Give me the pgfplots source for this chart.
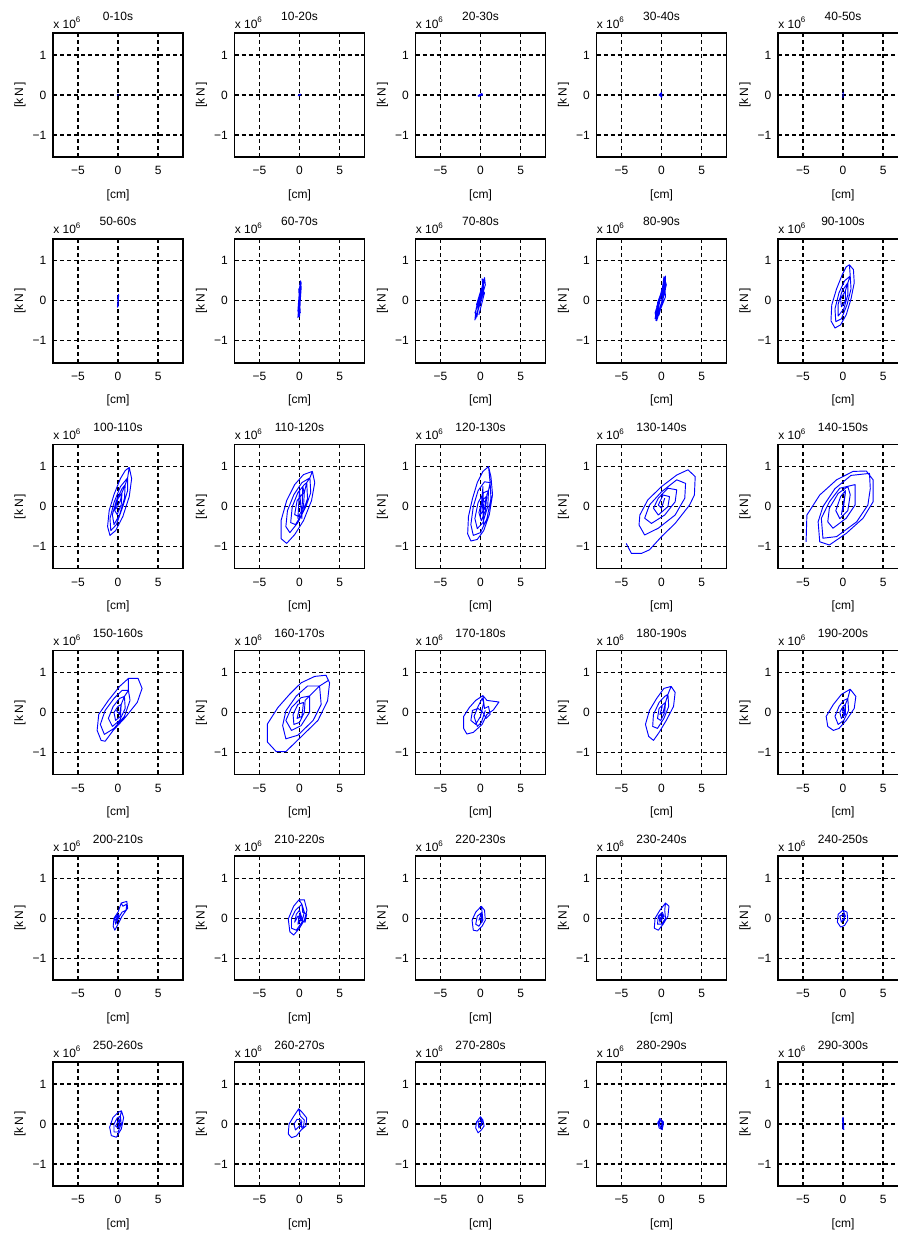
\documentclass[border=0pt]{standalone}
\usepackage{fontspec}
\setmainfont{Liberation Sans}
\usepackage{pgfplots}
\pgfplotsset{compat=1.18}
\definecolor{mblue}{RGB}{0,0,255}
\newcommand{\lf}{\fontsize{9}{10}\selectfont}
\pgfplotsset{panel/.style={
 width=97.5pt, height=93pt, scale only axis, anchor=north west,
 xmin=-8.1, xmax=8.1, ymin=-1.55, ymax=1.55,
 xtick={-5,0,5}, xticklabels={−5,0,5}, ytick={-1,0,1}, yticklabels={−1,0,1},
 grid=major, major grid style={black, line width=1pt, dash pattern=on 3pt off 2.3pt},
 axis line style={black, line width=1.3pt},
 tick align=inside, major tick length=2.5pt, tick style={black, line width=0.8pt},
 every tick label/.append style={font=\lf},
 xticklabel style={yshift=-3.5pt},
 yticklabel style={xshift=-1.5pt},
 xlabel={[cm]}, ylabel={[k\,N\,]},
 label style={font=\lf},
 xlabel style={at={(axis description cs:0.5,-0.306)}, anchor=center},
 ylabel style={at={(axis description cs:-0.254,0.5)}, anchor=center},
 title style={at={(axis description cs:0.5,1)}, anchor=base, yshift=3.75pt, inner sep=0pt, font=\lf},
 extra description/.code={\node[anchor=base west, inner sep=0pt, font=\lf] at (axis description cs:0,1) [yshift=3.75pt] {x 10\textsuperscript{6}};},
}}
\newcommand{\panel}[4]{%
\begin{axis}[panel, at={({#1*0.75pt},{-#2*0.75pt})}, title={#3}]
\addplot[mblue, line width=0.7pt, line join=round, mark=none] coordinates {#4};
\end{axis}}
\begin{document}
\begin{tikzpicture}
\useasboundingbox (0,0) rectangle ({898*0.75pt},{-1235*0.75pt});
\clip (0,0) rectangle ({898*0.75pt},{-1235*0.75pt});
% Row 1
\panel{53}{33}{0-10s}{(0,0)(0.06,0.005)(-0.06,-0.005)(0,0)}
\panel{234.5}{33}{10-20s}{(-0.15,-0.01)(0.1,0.02)(0.15,0.01)(-0.1,-0.02)(-0.15,-0.01)(0.05,0.015)(0.12,-0.01)}
\panel{415.5}{33}{20-30s}{(-0.25,-0.03)(0.2,0.03)(0.25,0.02)(-0.2,-0.035)(-0.3,-0.02)(0.15,0.035)(0.2,-0.01)(-0.2,0.01)}
\panel{596.5}{33}{30-40s}{(-0.3,0)(0,0.06)(0.05,-0.05)(-0.3,0)(0,0.04)(0,-0.06)(-0.2,0.01)}
\panel{778}{33}{40-50s}{(0,-0.07)(0.02,0.07)(-0.01,-0.06)(0.01,0.06)}
% Row 2
\panel{53}{238.8}{50-60s}{(0,-0.15)(0.08,0.14)(-0.06,-0.12)(0.08,0.16)(-0.07,-0.14)(0.05,0.12)(-0.05,-0.16)(0.06,0.15)(-0.02,0.1)(0.02,-0.1)}
\panel{234.5}{238.8}{60-70s}{(0,-0.4)(0.2,0.45)(0.12,0.5)(-0.15,-0.35)(-0.2,-0.42)(0.12,0.4)(0.22,0.35)(-0.12,-0.3)(-0.15,-0.38)(0.15,0.48)(0.05,0.42)(-0.2,-0.25)(-0.05,-0.4)(0.2,0.3)(0.12,0.2)(-0.15,-0.2)(-0.05,-0.1)(0.1,0.15)(-0.1,0.3)(0.1,-0.3)(0,0)}
\panel{415.5}{238.8}{70-80s}{(-0.6,-0.45)(0.3,0.3)(0.45,0.5)(0.2,0.55)(0.35,0.2)(-0.4,-0.3)(-0.7,-0.48)(-0.55,-0.2)(0.2,0.35)(0.5,0.58)(0.6,0.4)(0.1,0.05)(-0.5,-0.35)(-0.7,-0.3)(-0.2,-0.05)(0.3,0.4)(0.45,0.3)(-0.3,-0.2)(-0.45,-0.4)(0,0.1)(0.25,0.15)(-0.1,-0.1)(-0.5,-0.1)(0.1,0.3)(0.5,0.2)(-0.2,-0.35)}
\panel{596.5}{238.8}{80-90s}{(-0.7,-0.5)(0.3,0.5)(0.5,0.62)(0.5,0.3)(-0.3,-0.35)(-0.8,-0.45)(-0.6,-0.2)(0.2,0.4)(0.4,0.55)(0.6,0.4)(0,-0.1)(-0.6,-0.5)(-0.8,-0.3)(0,0.2)(0.4,0.45)(0.3,0.15)(-0.4,-0.3)(-0.6,-0.15)(0.1,0.3)(0.3,0.6)(0.5,0.1)(-0.2,-0.25)(-0.75,-0.4)(-0.3,0)(0.2,0.25)(-0.5,-0.05)(0.5,0.5)(0,0)}
\panel{778}{238.8}{90-100s}{(0.8,0.9)(1.3,0.78)(1.4,0.45)(1.0,0.05)(0.4,-0.35)(-0.3,-0.6)(-1.0,-0.68)(-1.5,-0.5)(-1.4,-0.1)(-0.8,0.3)(-0.1,0.65)(0.4,0.85)(0.8,0.9)(0.9,0.62)(1.0,0.3)(0.5,-0.1)(-0.2,-0.45)(-0.9,-0.52)(-1.0,-0.2)(-0.5,0.2)(0.2,0.5)(0.9,0.62)(0.6,0.45)(0.6,0.15)(0.1,-0.2)(-0.6,-0.38)(-0.6,-0.08)(-0.1,0.25)(0.6,0.45)(0.3,0.25)(0.3,0.0)(-0.2,-0.15)(-0.3,0.05)(0.3,0.25)}
% Row 3
\panel{53}{444.6}{100-110s}{(1.4,0.98)(1.7,0.7)(1.4,0.25)(0.6,-0.25)(-0.3,-0.6)(-1.0,-0.72)(-1.3,-0.5)(-1.1,-0.1)(-0.5,0.3)(0.3,0.7)(0.9,0.9)(1.4,0.98)(1.2,0.72)(1.2,0.4)(0.6,0.0)(-0.2,-0.45)(-0.9,-0.6)(-1.0,-0.3)(-0.5,0.1)(0.3,0.5)(1.2,0.72)(0.9,0.55)(0.8,0.2)(0.2,-0.2)(-0.5,-0.45)(-0.7,-0.2)(-0.2,0.15)(0.5,0.45)(0.9,0.55)(0.5,0.35)(0.4,0.05)(-0.1,-0.2)(-0.4,-0.1)(0,0.2)(0.5,0.35)(0.3,0.15)(-0.2,-0.05)}
\panel{234.5}{444.6}{110-120s}{(1.6,0.88)(1.9,0.6)(1.5,0.15)(0.5,-0.35)(-0.6,-0.7)(-1.6,-0.92)(-2.3,-0.8)(-2.3,-0.35)(-1.6,0.15)(-0.6,0.55)(0.5,0.8)(1.6,0.88)(1.3,0.72)(1.4,0.35)(0.8,0)(-0.2,-0.4)(-1.2,-0.65)(-1.7,-0.5)(-1.5,-0.1)(-0.7,0.3)(0.3,0.6)(1.3,0.72)(0.9,0.6)(1.0,0.2)(0.4,-0.15)(-0.5,-0.45)(-1.1,-0.4)(-0.9,0)(-0.2,0.35)(0.6,0.55)(0.9,0.6)(0.6,0.35)(0.5,0)(-0.1,-0.25)(-0.6,-0.2)(-0.3,0.15)(0.3,0.3)(0.6,0.35)(0.4,0.5)(0.3,-0.3)(0,0.4)(-0.2,-0.3)}
\panel{415.5}{444.6}{120-130s}{(1.0,1.0)(1.3,0.75)(1.5,0.3)(1.1,-0.2)(0.4,-0.6)(-0.4,-0.82)(-1.2,-0.86)(-1.6,-0.68)(-1.5,-0.25)(-1.0,0.2)(-0.4,0.6)(0.3,0.88)(1.0,1.0)(1.2,0.6)(1.3,0.2)(0.8,-0.3)(0,-0.65)(-0.9,-0.72)(-1.2,-0.45)(-0.9,0)(-0.3,0.4)(0.5,0.62)(1.2,0.6)(1.0,0.4)(0.9,0)(0.3,-0.4)(-0.4,-0.55)(-0.7,-0.3)(-0.3,0.1)(0.4,0.35)(1.0,0.4)(0.8,0.3)(0.6,-0.1)(0.1,-0.35)(-0.2,-0.15)(0.2,0.15)(0.7,0.25)(0.5,-0.05)(0,-0.2)(0.3,0.5)(0.4,-0.45)(0.2,0.2)(0.6,0.1)}
\panel{596.5}{444.6}{130-140s}{(-4.4,-0.92)(-3.75,-1.17)(-2.5,-1.17)(-1.5,-1.08)(0,-0.75)(1.7,-0.42)(3.5,0.04)(4.1,0.29)(4.2,0.75)(3.3,0.92)(1.9,0.79)(0,0.5)(-1.7,0.17)(-2.7,-0.21)(-2.8,-0.46)(-2.1,-0.71)(-0.4,-0.54)(1.7,-0.21)(2.9,0.21)(3.0,0.58)(1.9,0.67)(0,0.37)(-1.5,0.04)(-2.1,-0.29)(-1.25,-0.42)(0.4,-0.21)(1.7,0.12)(1.9,0.42)(0.8,0.46)(-0.4,0.21)(-1.0,-0.04)(-0.4,-0.21)(0.8,0)(1.0,0.25)(0.2,0.29)(-0.4,0.04)(0,-0.04)(0.4,0.21)}
\panel{778}{444.6}{140-150s}{(-4.6,-0.88)(-4.5,-0.21)(-2.9,0.29)(-0.8,0.67)(1.25,0.88)(2.9,0.89)(3.75,0.67)(3.75,0.12)(2.5,-0.29)(0.4,-0.67)(-1.7,-0.96)(-2.9,-0.88)(-3.1,-0.38)(-2.5,0.0)(-1.0,0.45)(1.0,0.78)(3.3,0.83)(3.4,0.45)(3.1,0.04)(1.7,-0.38)(-0.8,-0.75)(-2.5,-0.79)(-2.7,-0.29)(-1.7,0.12)(-0.4,0.46)(1.5,0.55)(1.5,0.04)(0.4,-0.29)(-1.25,-0.54)(-1.9,-0.38)(-1.7,-0.04)(-0.6,0.33)(0.6,0.5)(0.9,0.3)(0.6,-0.1)(-0.4,-0.3)(-0.9,-0.1)(-0.3,0.25)(0.3,0.4)(0.0,-0.1)(0.3,0.35)(-0.2,-0.2)(0,0)}
% Row 4
\panel{53}{650.4}{150-160s}{(1.3,0.85)(2.5,0.85)(3.0,0.6)(2.4,0.25)(0.8,-0.15)(-0.6,-0.45)(-1.6,-0.72)(-2.1,-0.7)(-2.6,-0.45)(-2.4,-0.05)(-1.2,0.3)(0.2,0.65)(1.3,0.85)(1.3,0.55)(1.5,0.3)(0.8,-0.1)(-0.5,-0.4)(-1.7,-0.55)(-2.2,-0.3)(-1.6,0.05)(-0.5,0.35)(0.5,0.55)(1.3,0.55)(0.8,0.4)(0.9,0.1)(0.2,-0.2)(-0.7,-0.35)(-1.2,-0.15)(-0.6,0.15)(0.2,0.35)(0.8,0.4)(0.4,0.2)(0.3,-0.1)(-0.3,-0.2)(-0.5,0)(0,0.15)(0.4,0.2)(0.2,-0.05)(-0.2,0.05)}
\panel{234.5}{650.4}{160-170s}{(3.3,0.93)(3.75,0.74)(3.5,0.29)(2.3,-0.2)(0.2,-0.61)(-1.7,-0.98)(-2.9,-0.98)(-4.0,-0.74)(-4.0,-0.29)(-2.7,0.12)(-1.25,0.45)(0.2,0.74)(1.9,0.9)(3.3,0.93)(3.6,0.8)(2.5,0.66)(2.7,0.2)(1.7,-0.2)(-0.2,-0.57)(-1.7,-0.66)(-2.1,-0.33)(-1.7,0.04)(-0.4,0.41)(1.0,0.66)(2.5,0.66)(1.25,0.41)(1.25,0)(0.2,-0.33)(-1.0,-0.45)(-1.7,-0.2)(-1.0,0.12)(0.2,0.37)(1.25,0.41)(0.7,0.3)(0.6,0)(0,-0.25)(-0.7,-0.3)(-0.8,-0.05)(-0.2,0.2)(0.5,0.25)(0.3,-0.1)(-0.3,-0.15)(0,0.1)}
\panel{415.5}{650.4}{170-180s}{(0.3,0.42)(0.8,0.3)(2.3,0.26)(1.6,0.06)(0.8,-0.05)(0.2,-0.3)(-0.9,-0.5)(-1.7,-0.54)(-2.1,-0.4)(-2.1,-0.1)(-1.4,0.12)(-0.6,0.3)(0.3,0.42)(0.5,0.1)(1.0,0.15)(1.2,-0.05)(0.7,-0.15)(0.3,0.0)(-0.3,0.1)(-1.0,0.05)(-1.2,-0.2)(-0.6,-0.3)(0,-0.1)(0.4,0.25)(0.2,0.35)(-0.3,0.15)(-0.8,-0.1)(-0.4,-0.35)(0.1,-0.25)(0.6,0.05)}
\panel{596.5}{650.4}{180-190s}{(1.2,0.65)(1.7,0.5)(1.5,0.15)(0.6,-0.2)(-0.3,-0.5)(-1.0,-0.7)(-1.6,-0.6)(-2.0,-0.3)(-1.5,0.05)(-0.6,0.35)(0.3,0.6)(1.2,0.65)(0.8,0.45)(0.9,0.15)(0.3,-0.15)(-0.5,-0.4)(-1.1,-0.35)(-1.0,-0.05)(-0.3,0.25)(0.4,0.4)(0.8,0.45)(0.5,0.25)(0.4,0)(-0.1,-0.2)(-0.5,-0.15)(-0.3,0.1)(0.2,0.2)(0.5,0.25)(0.2,0)(-0.2,-0.05)(0.1,0.15)}
\panel{778}{650.4}{190-200s}{(0.9,0.58)(1.6,0.4)(1.4,0.1)(0.4,-0.2)(-0.5,-0.4)(-1.2,-0.45)(-1.9,-0.35)(-2.1,-0.1)(-1.2,0.2)(-0.2,0.45)(0.9,0.58)(0.6,0.35)(0.7,0.05)(0.1,-0.2)(-0.6,-0.3)(-1.0,-0.1)(-0.5,0.15)(0.1,0.3)(0.6,0.35)(0.3,0.2)(0.3,-0.05)(-0.2,-0.15)(-0.4,0)(0,0.15)(0.3,0.2)(0.1,-0.1)(-0.1,0.1)(0.2,0.05)}
% Row 5
\panel{53}{856.2}{200-210s}{(0.4,0.38)(1.1,0.42)(1.2,0.25)(0.5,0.05)(0,-0.15)(-0.4,-0.3)(-0.6,-0.2)(-0.5,0.0)(0,0.15)(0.4,0.38)(0.6,0.3)(1.1,0.35)(1.0,0.2)(0.5,0.15)(0.2,0.05)(-0.3,-0.15)(-0.4,0)(0.1,0.1)(-0.2,-0.1)(0,0.05)(-0.3,-0.05)}
\panel{234.5}{856.2}{210-220s}{(-0.07,0.46)(0.6,0.46)(0.93,0.2)(0.6,-0.05)(0,-0.25)(-0.73,-0.42)(-1.2,-0.34)(-1.4,-0.02)(-0.73,0.3)(-0.07,0.46)(0.3,0.35)(0.6,0.15)(0.3,-0.1)(-0.4,-0.3)(-1.0,-0.25)(-1.0,0)(-0.5,0.2)(0.3,0.35)(0.4,0.15)(0.9,0.1)(0.7,-0.1)(0.2,-0.05)(-0.2,0.05)(-0.6,-0.1)(-0.4,0.1)(0,0.2)(0.3,0)(-0.2,-0.15)(0,0.1)(0.2,-0.05)}
\panel{415.5}{856.2}{220-230s}{(0.1,0.3)(0.5,0.2)(0.6,-0.05)(0.2,-0.2)(-0.4,-0.32)(-0.9,-0.3)(-1.05,-0.05)(-0.6,0.15)(0.1,0.3)(0.2,0.15)(0.3,-0.05)(-0.2,-0.2)(-0.6,-0.15)(-0.4,0.05)(0.2,0.15)(0,0.05)(-0.2,-0.05)(0.1,0.1)(0.2,-0.1)(-0.1,0)}
\panel{596.5}{856.2}{230-240s}{(0.5,0.38)(0.93,0.3)(0.8,0.05)(0.2,-0.15)(-0.4,-0.3)(-0.9,-0.25)(-0.8,0)(-0.2,0.2)(0.5,0.38)(0.4,0.2)(0.5,0)(0,-0.15)(-0.5,-0.15)(-0.4,0.05)(0.1,0.15)(0.3,0.05)(-0.2,-0.1)(-0.3,0.05)(0.2,0.1)(0,-0.05)(-0.2,0)(0.1,0.05)}
\panel{778}{856.2}{240-250s}{(0,0.2)(0.5,0.15)(0.6,-0.05)(0.2,-0.18)(-0.3,-0.22)(-0.7,-0.1)(-0.6,0.1)(0,0.2)(0.3,0.05)(-0.2,-0.1)(-0.4,0.05)(0.1,0.1)(0.2,-0.05)(-0.1,-0.05)}
% Row 6
\panel{53}{1062}{250-260s}{(0.42,0.33)(0.7,0.16)(0.42,-0.12)(-0.2,-0.33)(-0.83,-0.29)(-1.04,-0.08)(-0.63,0.16)(0,0.29)(0.42,0.33)(0.3,0.2)(0.4,0)(0,-0.2)(-0.5,-0.2)(-0.5,0)(-0.1,0.15)(0.3,0.2)(0.2,0.05)(0,-0.1)(-0.3,-0.05)(0.1,0.1)(0.25,-0.1)(0.05,0.12)(0.2,-0.05)}
\panel{234.5}{1062}{260-270s}{(-0.1,0.38)(0.3,0.3)(0.9,0.15)(0.8,-0.05)(0.2,-0.15)(-0.4,-0.3)(-1.0,-0.34)(-1.4,-0.25)(-1.3,0)(-0.7,0.2)(-0.1,0.38)(0.1,0.2)(0.6,0.1)(0.5,-0.08)(0,-0.05)(-0.5,-0.15)(-0.7,0)(-0.3,0.12)(0.2,0.1)(0.3,-0.1)(0.1,0.05)(0.4,0.05)}
\panel{415.5}{1062}{270-280s}{(0,0.18)(0.3,0.1)(0.45,-0.05)(0.1,-0.15)(-0.3,-0.22)(-0.6,-0.1)(-0.5,0.05)(0,0.18)(0.2,0.05)(-0.2,-0.1)(-0.3,0.05)(0.1,0.1)(0.15,-0.05)}
\panel{596.5}{1062}{280-290s}{(-0.5,0)(-0.2,0.14)(0.25,0.05)(0.1,-0.14)(-0.3,-0.1)(-0.45,0.05)(0,0.1)(0.2,-0.05)(-0.1,-0.1)(-0.3,0.05)(0.1,0.05)(0,-0.05)}
\panel{778}{1062}{290-300s}{(0,0.18)(0.1,-0.14)(-0.05,0.15)(0.05,-0.12)(0,0.1)(0.08,-0.1)(-0.05,0.12)(0,-0.14)}
\end{tikzpicture}
\end{document}
